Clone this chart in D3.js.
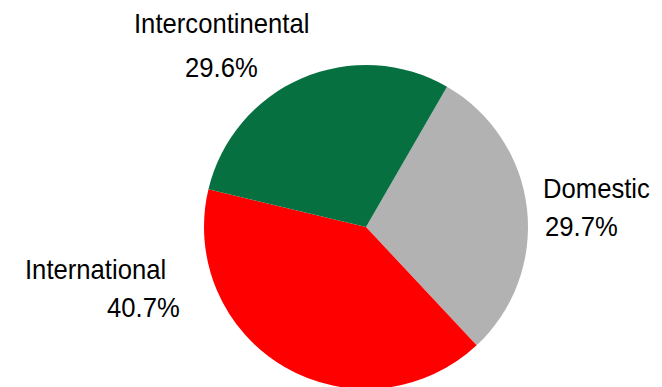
<!DOCTYPE html>
<html>
<head>
<meta charset="utf-8">
<script src="https://cdn.jsdelivr.net/npm/d3@7"></script>
<style>
  html, body { margin: 0; padding: 0; background: #fff; }
  svg { display: block; }
  text { font-family: "Liberation Sans", Arial, sans-serif; fill: #000; }
</style>
</head>
<body>
<svg id="chart" width="662" height="387"></svg>
<script>
// Share of traffic by segment (%)
const categories = ["Domestic", "International", "Intercontinental"];
const shares = [29.7, 40.7, 29.6];
const colors = ["#b2b2b2", "#ff0000", "#077040"];

const width = 662, height = 387;
const cx = 366, cy = 227, radius = 162;

const svg = d3.select("#chart");
const g = svg.append("g").attr("transform", `translate(${cx},${cy})`);

const pie = d3.pie()
  .sort(null)
  .value(d => d)
  .startAngle(30 * Math.PI / 180)
  .endAngle(390 * Math.PI / 180);

const arc = d3.arc().innerRadius(0).outerRadius(radius);

const color = d3.scaleOrdinal().domain(categories).range(colors);

g.selectAll("path")
  .data(pie(shares))
  .join("path")
  .attr("d", arc)
  .attr("fill", (d, i) => color(categories[i]));

// Label placement: name line and value line for each slice
const labelPos = {
  "Domestic":        { name: [543, 198], value: [545, 236] },
  "International":   { name: [25, 279],  value: [107, 317] },
  "Intercontinental":{ name: [134, 33],  value: [185, 77] }
};

const fmt = v => v.toFixed(1) + "%";

// slightly condensed label type
function label(x, y, str) {
  svg.append("text")
    .attr("transform", `translate(${x},${y}) scale(0.95,1)`)
    .attr("font-size", 27)
    .text(str);
}

categories.forEach((c, i) => {
  const p = labelPos[c];
  label(p.name[0], p.name[1], c);
  label(p.value[0], p.value[1], fmt(shares[i]));
});
</script>
</body>
</html>
